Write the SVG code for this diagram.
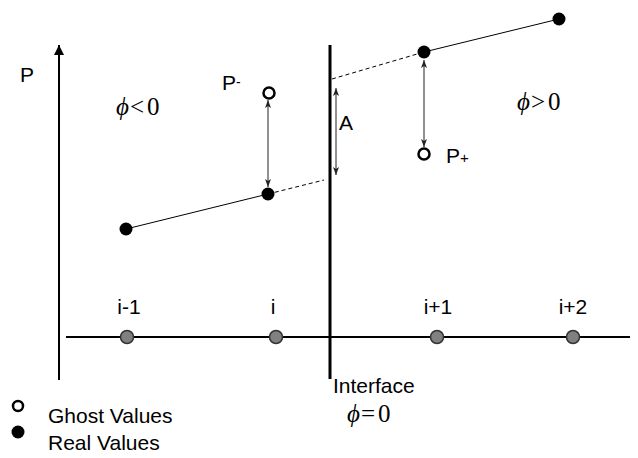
<svg xmlns="http://www.w3.org/2000/svg" width="638" height="458" viewBox="0 0 638 458">
<style>
.lbl{font-family:"Liberation Sans",Arial,sans-serif;font-size:21px;fill:#000}
.math{font-family:"Liberation Serif","Times New Roman",serif;font-size:25px;fill:#000}
.phi{font-style:italic}
.real{fill:#000}
.ghost{fill:#fff;stroke:#000;stroke-width:2.5}
.grid{fill:#808080;stroke:#333;stroke-width:1.5}
.axis{stroke:#000;stroke-width:2;fill:none}
.thin{stroke:#000;stroke-width:1;fill:none}
.dash{stroke:#000;stroke-width:1;stroke-dasharray:4 3;fill:none}
.dbl{stroke:#222;stroke-width:1;fill:none;marker-start:url(#ah);marker-end:url(#ah)}
</style>
<defs>
<marker id="ah" viewBox="0 0 8 8" refX="8" refY="4" markerWidth="8" markerHeight="8" markerUnits="userSpaceOnUse" orient="auto-start-reverse">
<path d="M0,1 L8,4 L0,7 L2,4 Z" fill="#222"/>
</marker>
<marker id="ax" viewBox="0 0 10 10" refX="10" refY="5" markerWidth="10" markerHeight="10" markerUnits="userSpaceOnUse" orient="auto">
<path d="M0,0 L10,5 L0,10 Z" fill="#000"/>
</marker>
</defs>
<g id="connectors">
<line id="p-axis" class="axis" x1="59" y1="380" x2="59" y2="45" marker-end="url(#ax)"/>
<line id="x-axis" class="axis" x1="66" y1="337" x2="630" y2="337"/>
<line id="interface-line" x1="330" y1="45" x2="330" y2="379" stroke="#000" stroke-width="3"/>
<line class="thin" x1="126" y1="229" x2="268" y2="194"/>
<line class="dash" x1="268" y1="194" x2="324" y2="180"/>
<line class="dash" x1="332" y1="79" x2="424" y2="52"/>
<line class="thin" x1="424" y1="52" x2="559" y2="19"/>
<line class="dbl" x1="268" y1="100" x2="268" y2="187"/>
<line class="dbl" x1="424" y1="60" x2="424" y2="147"/>
<line class="dbl" x1="336" y1="88" x2="336" y2="175"/>
</g>
<g id="grid-i-1"><circle class="grid" cx="127" cy="337" r="6.5"/><text class="lbl" x="129" y="314" text-anchor="middle">i-1</text></g>
<g id="grid-i"><circle class="grid" cx="276" cy="337" r="6.5"/><text class="lbl" x="273" y="314" text-anchor="middle">i</text></g>
<g id="grid-i+1"><circle class="grid" cx="437" cy="337" r="6.5"/><text class="lbl" x="438" y="314" text-anchor="middle">i+1</text></g>
<g id="grid-i+2"><circle class="grid" cx="573" cy="337" r="6.5"/><text class="lbl" x="573" y="314" text-anchor="middle">i+2</text></g>
<g id="real-1"><circle class="real" cx="126" cy="229" r="6.5"/></g>
<g id="real-2"><circle class="real" cx="268" cy="194" r="6.5"/></g>
<g id="real-3"><circle class="real" cx="424" cy="52" r="6.5"/></g>
<g id="real-4"><circle class="real" cx="559" cy="19" r="6.5"/></g>
<g id="ghost-minus"><circle class="ghost" cx="269" cy="93" r="5.5"/><text class="lbl" x="222" y="90" font-size="22">P<tspan font-size="14" dy="-3">-</tspan></text></g>
<g id="ghost-plus"><circle class="ghost" cx="424" cy="154" r="5.5"/><text class="lbl" x="446" y="163" font-size="22">P<tspan font-size="15">+</tspan></text></g>
<g id="label-P"><text class="lbl" x="20" y="82" font-size="22">P</text></g>
<g id="label-A"><text class="lbl" x="339" y="130" font-size="22">A</text></g>
<g id="phi-neg"><text class="math" x="116" y="115"><tspan class="phi">ϕ</tspan><tspan dx="1">&lt;</tspan><tspan dx="3">0</tspan></text></g>
<g id="phi-pos"><text class="math" x="517" y="110"><tspan class="phi">ϕ</tspan><tspan dx="1">&gt;</tspan><tspan dx="3">0</tspan></text></g>
<g id="interface"><text class="lbl" x="333" y="393" font-size="24">Interface</text><text class="math" x="347" y="422"><tspan class="phi">ϕ</tspan><tspan dx="1">=</tspan><tspan dx="3">0</tspan></text></g>
<g id="legend-ghost"><circle class="ghost" cx="18" cy="406" r="5"/><text class="lbl" x="48" y="423" font-size="19">Ghost Values</text></g>
<g id="legend-real"><circle class="real" cx="18" cy="432" r="6.5"/><text class="lbl" x="48" y="450" font-size="19">Real Values</text></g>
</svg>
